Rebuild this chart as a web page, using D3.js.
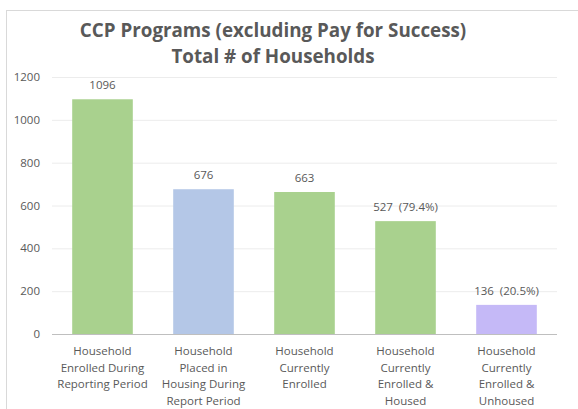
<!DOCTYPE html>
<html>
<head>
<meta charset="utf-8">
<script src="https://cdn.jsdelivr.net/npm/d3@7"></script>
<style>
  body { margin: 0; background: #fff; }
  text { font-family: "Open Sans", "Noto Sans", sans-serif; fill: #595959; white-space: pre; }
</style>
</head>
<body>
<div id="chart"></div>
<script>
// categories (multi-line labels) and values
var categories = [
    ["Household", "Enrolled During", "Reporting Period"],
    ["Household", "Placed in", "Housing During", "Report Period"],
    ["Household", "Currently", "Enrolled"],
    ["Household", "Currently", "Enrolled &", "Housed"],
    ["Household", "Currently", "Enrolled &", "Unhoused"]
];
var values = [1096, 676, 663, 527, 136];
var valueLabels = ["1096", "676", "663", "527  (79.4%)", "136  (20.5%)"];
var barColors = ["#a9d18e", "#b4c7e7", "#a9d18e", "#a9d18e", "#c5b9f7"];
var yTicks = [0, 200, 400, 600, 800, 1000, 1200];

var width = 578, height = 409;
// plot area edges (note: "top" is a reserved window prop, so use other names)
var plotLeft = 52, plotRight = 557, plotTop = 77, plotBottom = 334;

var svg = d3.select('#chart').append('svg')
    .attr('width', width)
    .attr('height', height);

// chart border
svg.append('rect')
    .attr('x', 6.5).attr('y', 10.5)
    .attr('width', 580).attr('height', 420)
    .attr('fill', 'none')
    .attr('stroke', '#d9d9d9');

// title
svg.append('text')
    .attr('x', 273).attr('y', 37)
    .attr('text-anchor', 'middle')
    .style('font-size', '18.8px').style('font-weight', 'bold')
    .text('CCP Programs (excluding Pay for Success)');
svg.append('text')
    .attr('x', 273).attr('y', 63)
    .attr('text-anchor', 'middle')
    .style('font-size', '18.8px').style('font-weight', 'bold')
    .text('Total # of Households');

var x = d3.scaleBand()
    .domain(d3.range(values.length))
    .range([plotLeft, plotRight])
    .paddingInner(0.4)
    .paddingOuter(0.2);

var y = d3.scaleLinear()
    .domain([0, 1200])
    .range([plotBottom, plotTop]);

// gridlines
svg.selectAll('.grid')
    .data(yTicks.filter(function (d) { return d > 0; }))
    .enter()
    .append('line')
    .attr('x1', plotLeft).attr('x2', plotRight)
    .attr('y1', function (d) { return y(d) + 0.5; })
    .attr('y2', function (d) { return y(d) + 0.5; })
    .attr('stroke', '#ececec');

// y tick labels
svg.selectAll('.ytick')
    .data(yTicks)
    .enter()
    .append('text')
    .attr('x', 40)
    .attr('y', function (d) { return y(d); })
    .attr('dy', '0.35em')
    .attr('text-anchor', 'end')
    .style('font-size', '11.5px')
    .text(function (d) { return d; });

// bars
svg.selectAll('.bar')
    .data(values)
    .enter()
    .append('rect')
    .attr('x', function (d, i) { return x(i); })
    .attr('y', function (d) { return y(d); })
    .attr('width', x.bandwidth())
    .attr('height', function (d) { return y(0) - y(d); })
    .attr('fill', function (d, i) { return barColors[i]; });

// value labels
svg.selectAll('.vlabel')
    .data(values)
    .enter()
    .append('text')
    .attr('x', function (d, i) { return x(i) + x.bandwidth() / 2; })
    .attr('y', function (d) { return y(d) - 10; })
    .attr('text-anchor', 'middle')
    .style('font-size', '11.5px')
    .text(function (d, i) { return valueLabels[i]; });

// axis line
svg.append('line')
    .attr('x1', plotLeft).attr('x2', plotRight)
    .attr('y1', plotBottom + 0.5).attr('y2', plotBottom + 0.5)
    .attr('stroke', '#bfbfbf')
    .attr('stroke-width', 1.2);

// x category labels
var cat = svg.selectAll('.xlabel')
    .data(categories)
    .enter()
    .append('text')
    .attr('text-anchor', 'middle')
    .style('font-size', '11.5px');
cat.each(function (lines, i) {
    var t = d3.select(this);
    lines.forEach(function (l, j) {
        t.append('tspan')
            .attr('x', x(i) + x.bandwidth() / 2)
            .attr('y', 355 + j * 16.5)
            .text(l);
    });
});
</script>
</body>
</html>
